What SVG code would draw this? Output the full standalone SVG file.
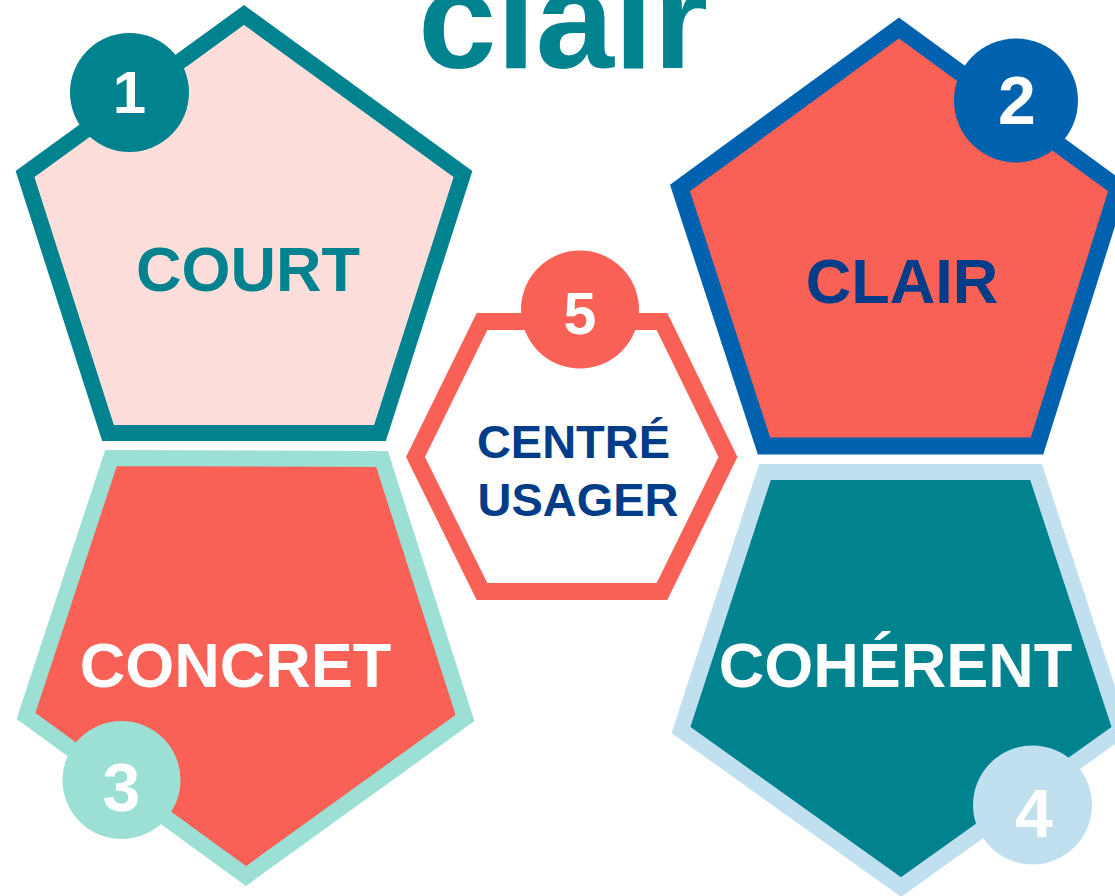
<svg xmlns="http://www.w3.org/2000/svg" width="1115" height="896" viewBox="0 0 1115 896">
<style>
text{font-family:"Liberation Sans",Arial,sans-serif;font-weight:bold;text-anchor:middle}
.shape{stroke-linejoin:miter;stroke-miterlimit:10}
.num{fill:#ffffff}
</style>
<rect width="1115" height="896" fill="#ffffff"/>
<g id="title"><text x="563" y="68" font-size="141" fill="#00828F">clair</text></g>
<g id="connectors"></g>
<g id="node1">
<polygon class="shape" points="244,15 463,174 380,433 108,433 25,174" fill="#FDDEDB" stroke="#00828F" stroke-width="16"/>
<circle cx="129.5" cy="92.5" r="59.5" fill="#00828F"/>
<text class="num" x="129.5" y="113" font-size="60">1</text>
<text x="248" y="291" font-size="63" fill="#00828F">COURT</text>
</g>
<g id="node2">
<polygon class="shape" points="899,28 1118,188 1037,446 764,446 680,188" fill="#F96156" stroke="#0061AE" stroke-width="17"/>
<circle cx="1016" cy="100.5" r="62" fill="#0061AE"/>
<text class="num" x="1017" y="124" font-size="68">2</text>
<text x="902" y="303" font-size="63" fill="#003C87">CLAIR</text>
</g>
<g id="node3">
<polygon class="shape" points="111,458 382,459 465,718 246,876 26,716" fill="#F96156" stroke="#9BDFD5" stroke-width="16"/>
<circle cx="121.5" cy="780" r="59" fill="#9BDFD5"/>
<text class="num" x="121.5" y="811" font-size="68">3</text>
<text x="235.5" y="687" font-size="63" fill="#ffffff">CONCRET</text>
</g>
<g id="node4">
<polygon class="shape" points="765,472 1036,472 1121,730 901,887 681,730" fill="#00828F" stroke="#C1E0EF" stroke-width="16"/>
<circle cx="1032.5" cy="805" r="59.5" fill="#C1E0EF"/>
<text class="num" x="1034" y="837" font-size="68">4</text>
<text x="895.5" y="687" font-size="63" fill="#ffffff">COHÉRENT</text>
</g>
<g id="node5">
<polygon class="shape" points="482,321.5 662,321.5 728,457 662,591.5 482,591.5 415.5,457" fill="#ffffff" stroke="#F96156" stroke-width="17"/>
<circle cx="580" cy="309.5" r="59" fill="#F96156"/>
<text class="num" x="580" y="334" font-size="59">5</text>
<text x="573.5" y="458" font-size="47" fill="#003C87">CENTRÉ</text>
<text x="578" y="516" font-size="47" fill="#003C87">USAGER</text>
</g>
</svg>
